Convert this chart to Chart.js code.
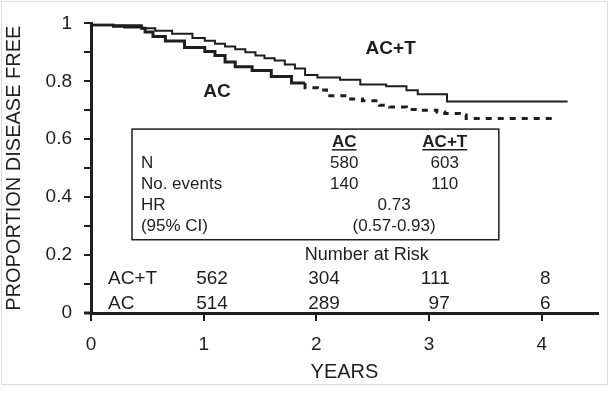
<!DOCTYPE html>
<html lang="en">
<head>
  <meta charset="UTF-8" />
  <title>Disease-free survival AC vs AC+T</title>
  <script src="https://cdn.jsdelivr.net/npm/chart.js"></script>
  <style>
    body { margin: 0; background: #fff; }
  </style>
</head>
<body>
  <canvas id="kmChart" width="611" height="398"></canvas>

  <script>
    // Kaplan-Meier readings (years, proportion disease free)
    const actTimes = [0, 0.45, 0.57, 0.72, 0.9, 1.01, 1.1, 1.19, 1.28, 1.37, 1.46, 1.54, 1.63, 1.72, 1.81, 1.9, 2.01, 2.21, 2.39, 2.62, 2.8, 2.9, 3.16, 3.41, 4.23];
    const actSurv  = [1, 0.994, 0.983, 0.975, 0.964, 0.95, 0.94, 0.93, 0.92, 0.911, 0.9, 0.889, 0.88, 0.872, 0.858, 0.844, 0.822, 0.813, 0.805, 0.789, 0.783, 0.769, 0.755, 0.73, 0.73];

    const acTimes = [0, 0.2, 0.3, 0.45, 0.48, 0.55, 0.66, 0.83, 1.01, 1.1, 1.19, 1.28, 1.43, 1.6, 1.78, 1.9, 2.01, 2.09, 2.27, 2.41, 2.56, 2.65, 2.8, 2.92, 3.07, 3.14, 3.27, 3.33, 3.45, 4.14];
    const acSurv  = [1, 0.995, 0.99, 0.988, 0.983, 0.97, 0.955, 0.939, 0.917, 0.903, 0.889, 0.867, 0.85, 0.837, 0.817, 0.794, 0.778, 0.77, 0.75, 0.739, 0.733, 0.717, 0.711, 0.703, 0.7, 0.694, 0.689, 0.684, 0.672, 0.672];

    const yearTicks = [0, 1, 2, 3, 4];

    // summary table
    const tableLabels = ['N', 'No. events', 'HR', '(95% CI)'];
    const tableAC = ['580', '140'];
    const tableACT = ['603', '110'];
    const hazardRatio = '0.73';
    const hazardCI = '(0.57-0.93)';

    // number at risk
    const riskACT = [562, 304, 111, 8];
    const riskAC = [514, 289, 97, 6];

    const FONT = '"Liberation Sans", Arial, sans-serif';
    const INK = '#1e1e1e';

    const toPoints = (ts, vs) => ts.map((t, i) => ({ x: t, y: vs[i] }));

    const frame = {
      id: 'frame',
      beforeDraw(chart) {
        const ctx = chart.ctx;
        ctx.save();
        ctx.fillStyle = '#fff';
        ctx.fillRect(0, 0, chart.width, chart.height);
        ctx.strokeStyle = '#dcdcdc';
        ctx.lineWidth = 1;
        ctx.strokeRect(1.5, 1.5, 606, 383);
        ctx.restore();
      }
    };

    const notes = {
      id: 'notes',
      afterDraw(chart) {
        const ctx = chart.ctx;
        const xs = chart.scales.x, ys = chart.scales.y;
        const px = v => xs.getPixelForValue(v);
        const py = v => ys.getPixelForValue(v);
        const text = (s, x, y, align, font) => {
          ctx.font = font;
          ctx.textAlign = align;
          ctx.fillText(s, px(x), py(y));
        };
        ctx.save();
        ctx.fillStyle = INK;
        ctx.strokeStyle = INK;
        ctx.textBaseline = 'middle';

        // x axis line runs a little past the y axis, as in the print
        ctx.lineWidth = 3;
        ctx.beginPath();
        ctx.moveTo(px(0) - 7, py(0));
        ctx.lineTo(px(0), py(0));
        ctx.stroke();

        // curve labels
        text('AC+T', 2.66, 0.911, 'center', 'bold 19px ' + FONT);
        text('AC', 1.118, 0.764, 'center', 'bold 19px ' + FONT);

        // box
        ctx.lineWidth = 1.5;
        const bx0 = px(0.364), bx1 = px(3.62), by0 = py(0.635), by1 = py(0.253);
        ctx.strokeRect(bx0, by0, bx1 - bx0, by1 - by0);

        const colAC = 2.247, colACT = 3.14, colMid = 2.69;
        const rowY = [0.518, 0.444, 0.371, 0.298];
        const body = '17px ' + FONT;
        const head = 'bold 17px ' + FONT;

        // headers, underlined
        [['AC', colAC], ['AC+T', colACT]].forEach(([s, c]) => {
          text(s, c, 0.591, 'center', head);
          const w = ctx.measureText(s).width;
          const uy = py(0.591) + 8;
          ctx.lineWidth = 1.5;
          ctx.beginPath();
          ctx.moveTo(px(c) - w / 2, uy);
          ctx.lineTo(px(c) + w / 2, uy);
          ctx.stroke();
        });

        tableLabels.forEach((s, i) => text(s, 0.443, rowY[i], 'left', body));
        tableAC.forEach((s, i) => text(s, colAC, rowY[i], 'center', body));
        tableACT.forEach((s, i) => text(s, colACT, rowY[i], 'center', body));
        text(hazardRatio, colMid, rowY[2], 'center', body);
        text(hazardCI, colMid, rowY[3], 'center', body);

        // number at risk
        const risk = '19px ' + FONT;
        text('Number at Risk', 2.448, 0.201, 'center', '18px ' + FONT);
        const riskX = [1.215, 2.209, 3.184, 4.08];
        text('AC+T', 0.151, 0.118, 'left', risk);
        text('AC', 0.151, 0.031, 'left', risk);
        riskACT.forEach((n, i) => text(String(n), riskX[i], 0.118, 'right', risk));
        riskAC.forEach((n, i) => text(String(n), riskX[i], 0.031, 'right', risk));

        ctx.restore();
      }
    };

    new Chart(document.getElementById('kmChart'), {
      type: 'line',
      data: {
        datasets: [
          {
            label: 'AC+T',
            data: toPoints(actTimes, actSurv),
            borderColor: INK,
            borderWidth: 2,
            stepped: 'after',
            pointRadius: 0
          },
          {
            label: 'AC',
            data: toPoints(acTimes, acSurv),
            borderColor: INK,
            borderWidth: 3,
            stepped: 'after',
            pointRadius: 0,
            segment: {
              borderDash: ctx => ctx.p0.parsed.x >= 1.9 ? [6, 6] : undefined
            }
          }
        ]
      },
      options: {
        responsive: false,
        animation: false,
        layout: { padding: { top: 13, right: 13, left: 0, bottom: 0 } },
        plugins: {
          legend: { display: false },
          tooltip: { enabled: false }
        },
        scales: {
          x: {
            type: 'linear',
            min: 0,
            max: 4.5,
            afterBuildTicks: s => { s.ticks = yearTicks.map(v => ({ value: v })); },
            afterFit: s => { s.height = 85; },
            ticks: {
              color: INK,
              font: { family: FONT, size: 19 },
              padding: 12,
              callback: v => String(v)
            },
            grid: { drawOnChartArea: false, drawTicks: true, tickLength: 8, color: INK, lineWidth: 2 },
            border: { display: true, color: INK, width: 3 },
            title: {
              display: true,
              text: 'YEARS',
              color: INK,
              font: { family: FONT, size: 20 },
              padding: { top: 0, bottom: 14 }
            }
          },
          y: {
            min: 0,
            max: 1,
            afterFit: s => { s.width = 91; },
            ticks: {
              stepSize: 0.1,
              color: INK,
              font: { family: FONT, size: 19 },
              padding: 12,
              callback: v => {
                const k = Math.round(v * 10);
                if (k % 2 !== 0) return '';
                return k === 0 ? '0' : k === 10 ? '1' : (k / 10).toFixed(1);
              }
            },
            grid: { drawOnChartArea: false, drawTicks: true, tickLength: 7, color: INK, lineWidth: 2 },
            border: { display: true, color: INK, width: 3 },
            title: {
              display: true,
              text: 'PROPORTION DISEASE FREE',
              color: INK,
              font: { family: FONT, size: 20 },
              padding: { top: 2, bottom: 0 }
            }
          }
        }
      },
      plugins: [frame, notes]
    });
  </script>
</body>
</html>
